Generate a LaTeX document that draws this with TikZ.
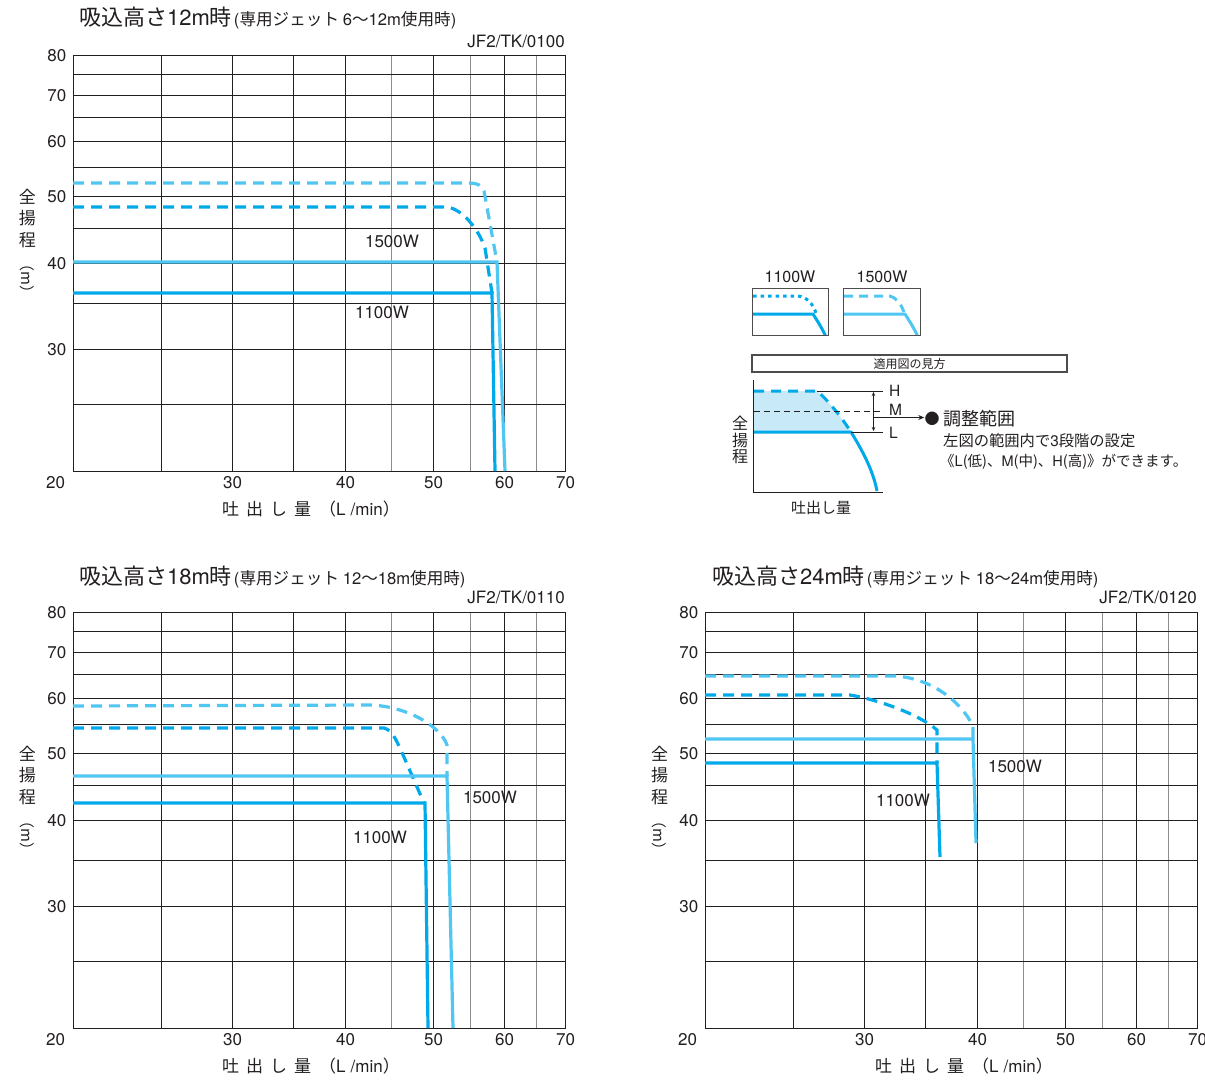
\documentclass[tikz,border=0pt]{standalone}
\usepackage{fontspec}
\setmainfont{Noto Sans CJK JP}
\newfontfamily\hv{TeX Gyre Heros}
\usetikzlibrary{arrows.meta}
\definecolor{ink}{RGB}{35,31,32}
\definecolor{dblue}{RGB}{0,169,234}
\definecolor{lblue}{RGB}{80,198,242}
\definecolor{fillb}{RGB}{200,233,248}
\definecolor{gline}{RGB}{140,140,140}
\tikzset{
  gl/.style={line width=1.4pt, draw=ink},
  gg/.style={line width=1.4pt, draw=gline},
  bd/.style={line width=1.7pt, draw=ink},
  c11/.style={line width=3.2pt, draw=dblue},
  c15/.style={line width=3.2pt, draw=lblue},
  dsh/.style={dash pattern=on 11pt off 7pt},
  num/.style={font=\hv\fontsize{17}{19}\selectfont, text=ink, inner sep=0pt},
  jlab/.style={font=\fontsize{16}{18}\selectfont, text=ink, inner sep=0pt},
  thin/.style={line width=0.9pt, draw=ink},
  ttl/.style={anchor=west, inner sep=0pt, text=ink},
  code/.style={anchor=east, inner sep=0pt, text=ink, font=\hv\fontsize{17}{19}\selectfont},
}
% #1 X0, #2 Y0 (80 line), #3 prefix  (X0, Y0 given at pixel centres)
\newcommand{\pumpgrid}[3]{%
  \foreach \d in {88,159,220,272,360,431}
    \draw[gl] ({#1+\d},#2) -- ++(0,416);
  \foreach \d in {318,397,463}
    \draw[gg] ({#1+\d},#2) -- ++(0,416);
  \foreach \d in {19,40,62,86,112,141,173,208,248,294,349}
    \draw[gl] (#1,{#2+\d}) -- ++(492,0);
  \draw[bd] (#1,#2) rectangle ++(492,416);
  \foreach \v/\d in {30/294,40/208,50/141,60/86,70/40,80/0}
    \node[num,anchor=east] (#3y\v) at ({#1-7},{#2+\d}) {\v};
  \foreach \v/\d in {30/159,40/272,50/360,60/431,70/492}
    \node[num] (#3x\v) at ({#1+\d},{#2+427}) {\v};
  \node[num] (#3x20) at ({#1-18},{#2+427}) {20};
  \node[jlab,font=\fontsize{17}{18}\selectfont] (#3ya) at ({#1-46},{#2+141}) {全};
  \node[jlab,font=\fontsize{17}{18}\selectfont] (#3yb) at ({#1-46},{#2+163}) {揚};
  \node[jlab,font=\fontsize{17}{18}\selectfont] (#3yc) at ({#1-46},{#2+185}) {程};
  \node[jlab,font=\fontsize{15}{18}\selectfont,rotate=-90] (#3yd) at ({#1-46},{#2+223}) {（m）};
}
\newcommand{\xtitle}[3]{%
  \node[jlab,font=\fontsize{17}{18}\selectfont] (#3) at (#1,#2)
    {吐\hspace{7pt}出\hspace{7pt}し\hspace{7pt}量\hspace{8pt}（{\hv L\hspace{5pt}/min}）};
}
\newcommand{\smallpart}[2]{{\hspace{2pt}\fontsize{16.6}{18}\selectfont{\hv (}専用ジェット {\hv #1}〜{\hv #2m}使用時{\hv )}}}
\begin{document}
\begin{tikzpicture}[x=1pt,y=-1pt]
\useasboundingbox (0,0) rectangle (1205,1080);
\fill[white] (0,0) rectangle (1205,1080);

% ================= chart 1 : 12 m =================
\node[ttl] (t1) at (79,18)
  {\fontsize{22}{24}\selectfont 吸込高さ{\hv 12m}時\smallpart{6}{12}};
\node[code] (r1) at (565,41) {JF2/TK/0100};
\pumpgrid{73.5}{55.5}{a}
\xtitle{311}{509}{ax}
\draw[c15,dsh] (73,183) -- (467,183) .. controls (477,183) and (482,185) .. (484,191) -- (497,262);
\draw[c11,dsh] (73,207) -- (447,207) .. controls (462,209) and (478,228) .. (485,248) -- (492,293);
\draw[c15] (73,262) -- (497,262) -- (505,471);
\draw[c11] (73,293) -- (492,293) -- (495,471);
\node[num] (a15) at (392,241) {1500W};
\node[num] (a11) at (382,312) {1100W};

% ================= chart 2 : 18 m =================
\node[ttl] (t2) at (79,577)
  {\fontsize{22}{24}\selectfont 吸込高さ{\hv 18m}時\smallpart{12}{18}};
\node[code] (r2) at (565,597) {JF2/TK/0110};
\pumpgrid{73.5}{612.5}{b}
\xtitle{311}{1066}{bx}
\draw[c15,dsh] (73,706) -- (370,705) .. controls (405,706) and (440,725) .. (447,745) -- (447,776);
\draw[c11,dsh] (73,728) -- (384,728) .. controls (392,730) and (396,740) .. (400,748) -- (424,803);
\draw[c15] (73,776) -- (447,776) -- (453,1028);
\draw[c11] (73,803) -- (425,803) -- (428,1028);
\node[num] (b15) at (490,797) {1500W};
\node[num] (b11) at (380,837) {1100W};

% ================= chart 3 : 24 m =================
\node[ttl] (t3) at (712,577)
  {\fontsize{22}{24}\selectfont 吸込高さ{\hv 24m}時\smallpart{18}{24}};
\node[code] (r3) at (1197,597) {JF2/TK/0120};
\pumpgrid{705.5}{612.5}{c}
\xtitle{964}{1066}{cx}
\draw[c15,dsh] (705,676) -- (895,676) .. controls (930,678) and (960,700) .. (973,726) -- (973,739);
\draw[c11,dsh] (705,695) -- (850,695) .. controls (880,700) and (920,715) .. (937,730) -- (937,763);
\draw[c15] (705,739) -- (973,739) -- (976,843);
\draw[c11] (705,763) -- (937,763) -- (940,857);
\node[num] (c15) at (1015,766) {1500W};
\node[num] (c11) at (903,800) {1100W};

% ================= legend =================
\node[num,font=\hv\fontsize{16}{18}\selectfont] (l11) at (790,277) {1100W};
\node[num,font=\hv\fontsize{16}{18}\selectfont] (l15) at (882,277) {1500W};
\begin{scope}
  \clip (752,288) rectangle (828,335);
  \draw[c11,line width=3pt,dash pattern=on 3.5pt off 4pt] (753,296) -- (798,296) .. controls (807,297) and (813,304) .. (816,313);
  \draw[c11,line width=3pt] (752,314) -- (813,314) .. controls (818,322) and (822,328) .. (826,337);
\end{scope}
\draw[line width=1.2pt,draw=ink!80] (752.5,288.5) rectangle (828.5,335.5);
\begin{scope}
  \clip (843,288) rectangle (920,335);
  \draw[c15,line width=3pt,dash pattern=on 9pt off 6pt] (844,296) -- (890,296) .. controls (896,298) and (900,302) .. (904,312);
  \draw[c15,line width=3pt] (843,314) -- (905,314) .. controls (910,322) and (914,328) .. (918,337);
\end{scope}
\draw[line width=1.2pt,draw=ink!80] (843.5,288.5) rectangle (920.5,335.5);

\node[draw=ink!80,line width=1.2pt,minimum width=315pt,minimum height=17pt,inner sep=0pt,
      font=\fontsize{12}{14}\selectfont,text=ink] (how) at (909.5,363.5) {適用図の見方};

% schematic
\fill[fillb] (754,391) -- (817,391) .. controls (828,400) and (842,418) .. (851,432) -- (754,432) -- cycle;
\draw[c11,line width=3pt,dash pattern=on 10pt off 7pt] (754,391) -- (817,391) .. controls (828,400) and (842,418) .. (851,432);
\draw[c11,line width=3pt] (754,432) -- (851,432) .. controls (862,450) and (873,470) .. (877,491);
\draw[line width=1.6pt,draw=ink] (753.5,380) -- (753.5,492.5) -- (883,492.5);
\coordinate (hl) at (883,391.5);
\coordinate (ml) at (884,411.5);
\coordinate (ll) at (883,432.5);
\draw[thin] (817,391.5) -- (hl);
\draw[thin,dash pattern=on 6pt off 4pt] (754,411.5) -- (ml);
\draw[thin] (851,432.5) -- (ll);
\node[jlab,font=\hv\fontsize{15.5}{18}\selectfont,anchor=west] (hH) at (889,391) {H};
\node[jlab,font=\hv\fontsize{15.5}{18}\selectfont,anchor=west] (hM) at (889,410) {M};
\node[jlab,font=\hv\fontsize{15.5}{18}\selectfont,anchor=west] (hL) at (889,433) {L};
\draw[thin,{Stealth[length=4pt,width=3.5pt]}-{Stealth[length=4pt,width=3.5pt]}] (873.5,392) -- (873.5,431);
\coordinate (arS) at (873.5,417.5);
\node[jlab,font=\fontsize{15}{18}\selectfont] (dot) at (932,419) {●};
\draw[thin,-{Stealth[length=6pt,width=5pt]}] (arS) -- (dot.west |- arS);
\node[jlab,font=\fontsize{18}{20}\selectfont,anchor=west] (adj) at (943,419) {調整範囲};
\node[jlab,font=\fontsize{15.3}{17}\selectfont,anchor=west] (d1) at (943,441) {左図の範囲内で{\hv 3}段階の設定};
\node[jlab,font=\fontsize{14.5}{17}\selectfont,anchor=west] (d2) at (940,462) {《{\hv L}(低)、{\hv M}(中)、{\hv H}(高)》ができます。};
\node[jlab,font=\fontsize{16}{18}\selectfont] (s1) at (740,423) {全};
\node[jlab,font=\fontsize{16}{18}\selectfont] (s2) at (740,440) {揚};
\node[jlab,font=\fontsize{16}{18}\selectfont] (s3) at (740,457) {程};
\node[jlab,font=\fontsize{15}{18}\selectfont] (sx) at (821,508) {吐出し量};
\end{tikzpicture}
\end{document}
